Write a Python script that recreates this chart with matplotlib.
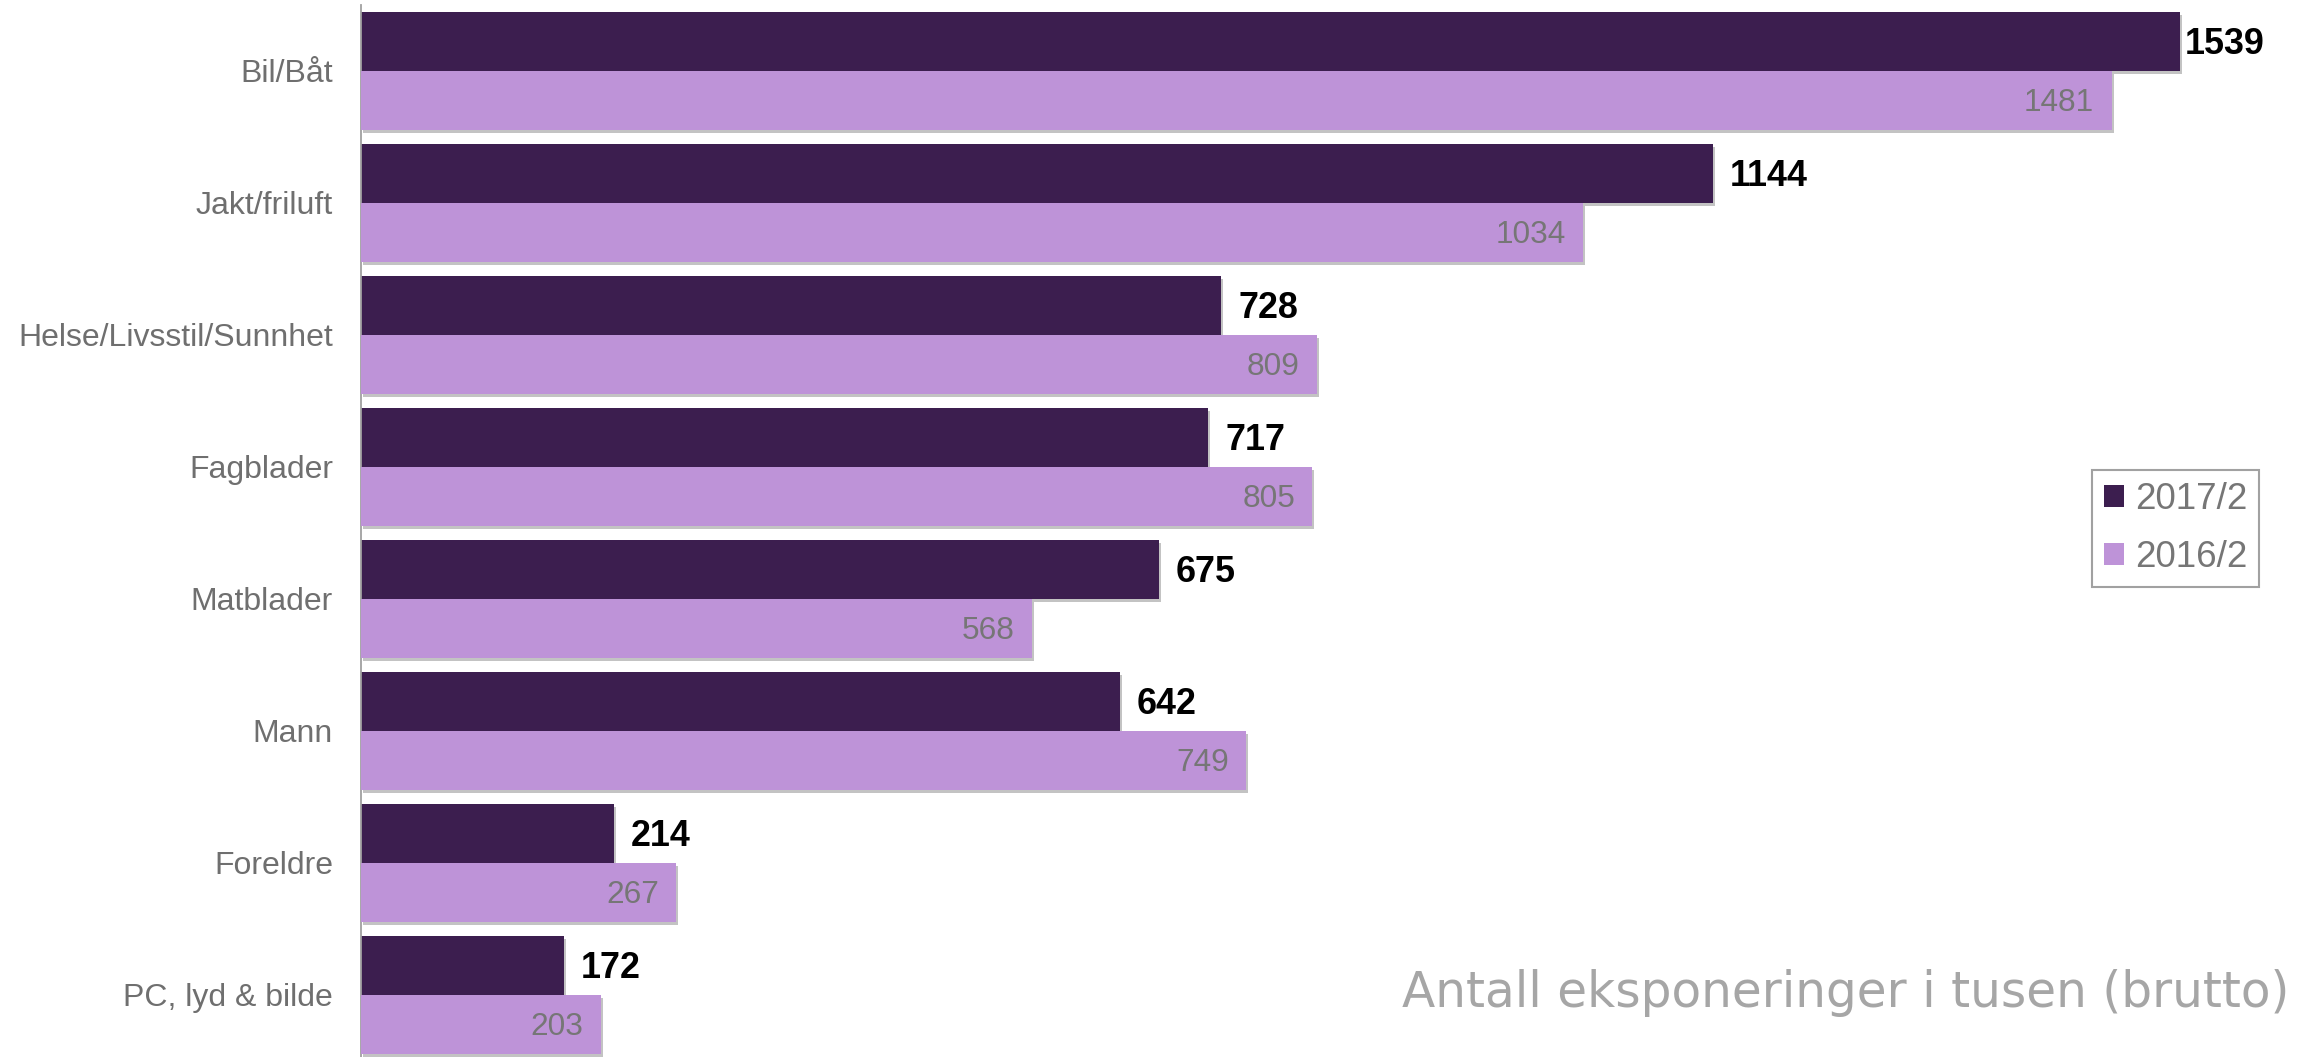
import matplotlib
matplotlib.use("Agg")
import matplotlib.pyplot as plt
import matplotlib.patheffects as pe
import numpy as np

categories = ["Bil/Båt", "Jakt/friluft", "Helse/Livsstil/Sunnhet", "Fagblader",
              "Matblader", "Mann", "Foreldre", "PC, lyd & bilde"]
series_2017 = [1539, 1144, 728, 717, 675, 642, 214, 172]
series_2016 = [1481, 1034, 809, 805, 568, 749, 267, 203]
series_names = ["2017/2", "2016/2"]
note = "Antall eksponeringer i tusen (brutto)"

DARK = "#3c1e4f"
LIGHT = "#be93d8"
GREY_TXT = "#6f6f6f"

plt.rcParams["font.family"] = ["Liberation Sans", "DejaVu Sans"]

W, H, DPI = 2308, 1057, 100
fig = plt.figure(figsize=(W / DPI, H / DPI), dpi=DPI)

left_px = 360.7
ax = fig.add_axes([left_px / W, -0.0036, 1 - left_px / W, 0.9991])

y = np.arange(len(categories))
bh = 0.447
shadow = [pe.SimplePatchShadow(offset=(1.5, -2.5), shadow_rgbFace="#7a7a7a", alpha=0.45), pe.Normal()]

bars_a = ax.barh(y - bh / 2, series_2017, height=bh, color=DARK, label=series_names[0],
                 edgecolor="none", zorder=2)
bars_b = ax.barh(y + bh / 2, series_2016, height=bh, color=LIGHT, label=series_names[1],
                 edgecolor="none", zorder=3)
for b in list(bars_a) + list(bars_b):
    b.set_path_effects(shadow)

vmax = max(series_2017)
for yi, v in zip(y, series_2017):
    off = 3.6 if v == vmax else 12.2
    ax.annotate(f"{v}", xy=(v, yi - bh / 2), xytext=(off, -2.2), textcoords="offset points",
                ha="left", va="center", fontsize=25.8, fontweight="bold", color="black", zorder=5)
for yi, v in zip(y, series_2016):
    ax.annotate(f"{v}", xy=(v, yi + bh / 2), xytext=(-12.5, -2.2), textcoords="offset points",
                ha="right", va="center", fontsize=22.8, color="#767676", zorder=5)

ax.set_xlim(0, (W - left_px) / 1.1822)
ax.set_ylim(len(categories) - 0.5, -0.5)
ax.set_yticks(y)
ax.set_yticklabels(categories, fontsize=23, color=GREY_TXT)
ax.tick_params(axis="y", length=0, pad=20)
ax.set_xticks([])
for s in ["top", "right", "bottom"]:
    ax.spines[s].set_visible(False)
ax.spines["left"].set_color("#a0a0a0")
ax.spines["left"].set_linewidth(1.3)

leg = ax.legend(loc="upper left", bbox_to_anchor=(2092 / W, 1 - 470 / H),
                bbox_transform=fig.transFigure, fontsize=26.5, frameon=True,
                fancybox=False, handlelength=0.53, handleheight=0.53,
                handletextpad=0.3, labelspacing=0.62, borderpad=0.33, borderaxespad=0)
leg.get_frame().set_edgecolor("#8a8a8a")
leg.get_frame().set_linewidth(1.5)
for t in leg.get_texts():
    t.set_color("#767676")
for h in leg.legend_handles:
    h.set_path_effects([])

fig.text(2289 / W, 1 - 1006.7 / H, note, ha="right", va="baseline",
         fontsize=35, color="#a6a6a6", family="DejaVu Sans")

fig.savefig("out.png", dpi=DPI)
